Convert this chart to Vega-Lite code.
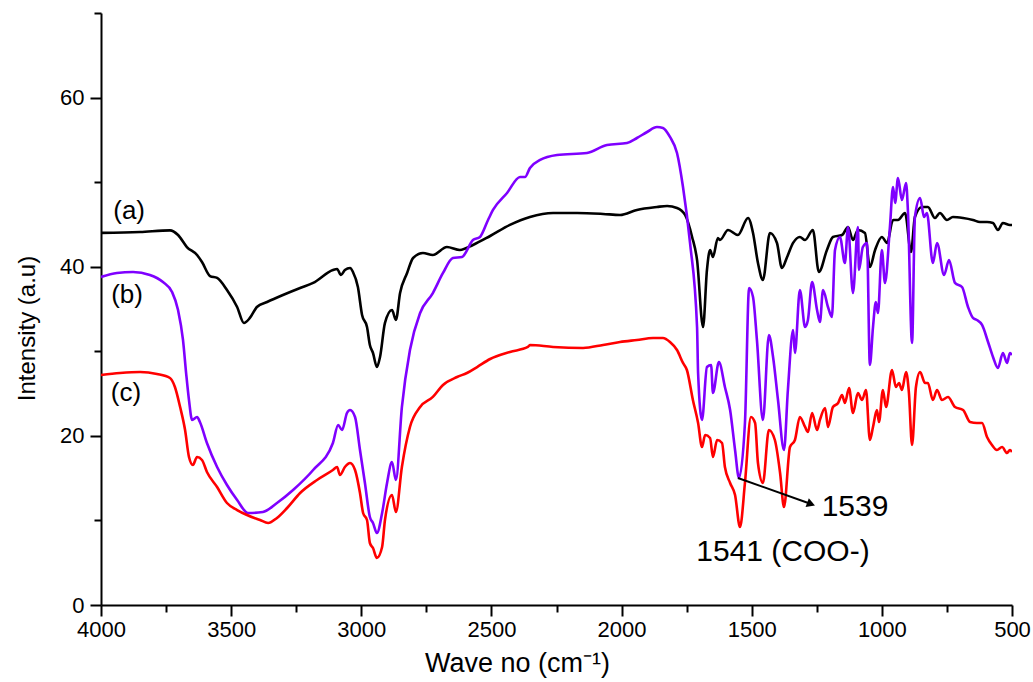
{
  "$schema": "https://vega.github.io/schema/vega-lite/v6.json",
  "width": 911,
  "height": 592,
  "autosize": "none",
  "padding": {"left": 101, "top": 13, "right": 21, "bottom": 77},
  "background": "white",
  "config": {
    "view": {"stroke": null},
    "font": "Liberation Sans",
    "axis": {
      "grid": false,
      "domainColor": "black",
      "domainWidth": 2,
      "tickColor": "black",
      "tickWidth": 2,
      "labelColor": "black",
      "labelFont": "Liberation Sans",
      "labelFontSize": 22,
      "titleColor": "black",
      "titleFontWeight": "normal"
    }
  },
  "layer": [
    {
      "data": {"values": [
        {"s":"a","x":4000,"y":44.0},{"s":"a","x":3850,"y":44.1},{"s":"a","x":3735,"y":44.3},{"s":"a","x":3704,"y":43.75},{"s":"a","x":3670,"y":42.33},{"s":"a","x":3631,"y":41.39},{"s":"a","x":3612,"y":40.56},{"s":"a","x":3581,"y":38.9},{"s":"a","x":3554,"y":38.67},{"s":"a","x":3516,"y":37.25},{"s":"a","x":3477,"y":35.24},{"s":"a","x":3451,"y":33.35},{"s":"a","x":3428,"y":33.94},{"s":"a","x":3401,"y":35.24},{"s":"a","x":3362,"y":35.83},{"s":"a","x":3301,"y":36.66},{"s":"a","x":3235,"y":37.49},{"s":"a","x":3185,"y":38.08},{"s":"a","x":3109,"y":39.61},{"s":"a","x":3093,"y":39.73},{"s":"a","x":3078,"y":39.02},{"s":"a","x":3063,"y":39.61},{"s":"a","x":3043,"y":39.85},{"s":"a","x":3032,"y":39.38},{"s":"a","x":3013,"y":37.6},{"s":"a","x":2997,"y":34.29},{"s":"a","x":2978,"y":32.87},{"s":"a","x":2967,"y":30.75},{"s":"a","x":2955,"y":29.8},{"s":"a","x":2940,"y":28.14},{"s":"a","x":2928,"y":29.33},{"s":"a","x":2909,"y":33.35},{"s":"a","x":2882,"y":34.88},{"s":"a","x":2867,"y":33.7},{"s":"a","x":2851,"y":36.89},{"s":"a","x":2824,"y":39.26},{"s":"a","x":2801,"y":41.03},{"s":"a","x":2763,"y":41.62},{"s":"a","x":2725,"y":41.39},{"s":"a","x":2671,"y":42.33},{"s":"a","x":2621,"y":41.98},{"s":"a","x":2571,"y":42.57},{"s":"a","x":2505,"y":43.63},{"s":"a","x":2429,"y":44.94},{"s":"a","x":2352,"y":45.88},{"s":"a","x":2263,"y":46.35},{"s":"a","x":2171,"y":46.35},{"s":"a","x":2071,"y":46.24},{"s":"a","x":2006,"y":46.12},{"s":"a","x":1941,"y":46.71},{"s":"a","x":1864,"y":47.06},{"s":"a","x":1825,"y":47.18},{"s":"a","x":1787,"y":46.95},{"s":"a","x":1756,"y":46.12},{"s":"a","x":1729,"y":43.52},{"s":"a","x":1710,"y":40.8},{"s":"a","x":1687,"y":32.87},{"s":"a","x":1672,"y":39.61},{"s":"a","x":1660,"y":41.98},{"s":"a","x":1649,"y":41.15},{"s":"a","x":1630,"y":43.4},{"s":"a","x":1622,"y":43.16},{"s":"a","x":1591,"y":44.34},{"s":"a","x":1553,"y":43.75},{"s":"a","x":1514,"y":45.76},{"s":"a","x":1495,"y":43.99},{"s":"a","x":1476,"y":40.44},{"s":"a","x":1457,"y":38.43},{"s":"a","x":1430,"y":43.99},{"s":"a","x":1403,"y":42.81},{"s":"a","x":1384,"y":39.85},{"s":"a","x":1364,"y":41.15},{"s":"a","x":1341,"y":42.81},{"s":"a","x":1315,"y":43.52},{"s":"a","x":1295,"y":43.16},{"s":"a","x":1265,"y":44.34},{"s":"a","x":1242,"y":39.38},{"s":"a","x":1211,"y":41.98},{"s":"a","x":1188,"y":43.52},{"s":"a","x":1153,"y":43.75},{"s":"a","x":1130,"y":44.7},{"s":"a","x":1111,"y":43.16},{"s":"a","x":1092,"y":44.34},{"s":"a","x":1065,"y":43.99},{"s":"a","x":1046,"y":39.97},{"s":"a","x":1026,"y":41.98},{"s":"a","x":1000,"y":43.52},{"s":"a","x":980,"y":42.81},{"s":"a","x":957,"y":45.53},{"s":"a","x":938,"y":45.53},{"s":"a","x":911,"y":46.35},{"s":"a","x":888,"y":41.74},{"s":"a","x":873,"y":45.88},{"s":"a","x":846,"y":47.06},{"s":"a","x":823,"y":47.06},{"s":"a","x":796,"y":45.76},{"s":"a","x":777,"y":46.35},{"s":"a","x":750,"y":45.53},{"s":"a","x":727,"y":45.88},{"s":"a","x":688,"y":45.76},{"s":"a","x":650,"y":45.53},{"s":"a","x":623,"y":45.29},{"s":"a","x":596,"y":45.29},{"s":"a","x":573,"y":45.17},{"s":"a","x":554,"y":44.34},{"s":"a","x":535,"y":45.17},{"s":"a","x":508,"y":44.94},{"s":"a","x":500,"y":44.94},

        {"s":"b","x":4000,"y":38.79},{"s":"b","x":3939,"y":39.26},{"s":"b","x":3877,"y":39.38},{"s":"b","x":3812,"y":39.02},{"s":"b","x":3762,"y":38.19},{"s":"b","x":3727,"y":37.01},{"s":"b","x":3704,"y":34.88},{"s":"b","x":3685,"y":31.34},{"s":"b","x":3673,"y":27.43},{"s":"b","x":3662,"y":24.24},{"s":"b","x":3650,"y":21.88},{"s":"b","x":3631,"y":22.23},{"s":"b","x":3620,"y":21.64},{"s":"b","x":3593,"y":19.16},{"s":"b","x":3554,"y":16.32},{"s":"b","x":3516,"y":14.19},{"s":"b","x":3477,"y":12.42},{"s":"b","x":3435,"y":10.88},{"s":"b","x":3378,"y":11.0},{"s":"b","x":3324,"y":12.06},{"s":"b","x":3262,"y":13.6},{"s":"b","x":3185,"y":15.96},{"s":"b","x":3109,"y":19.16},{"s":"b","x":3089,"y":21.29},{"s":"b","x":3074,"y":20.69},{"s":"b","x":3055,"y":22.7},{"s":"b","x":3043,"y":23.06},{"s":"b","x":3024,"y":22.23},{"s":"b","x":3005,"y":18.33},{"s":"b","x":2986,"y":14.43},{"s":"b","x":2967,"y":10.41},{"s":"b","x":2955,"y":9.7},{"s":"b","x":2940,"y":8.51},{"s":"b","x":2920,"y":10.88},{"s":"b","x":2901,"y":14.43},{"s":"b","x":2882,"y":16.91},{"s":"b","x":2867,"y":14.78},{"s":"b","x":2844,"y":23.41},{"s":"b","x":2813,"y":30.15},{"s":"b","x":2774,"y":34.53},{"s":"b","x":2725,"y":36.89},{"s":"b","x":2686,"y":39.26},{"s":"b","x":2648,"y":41.03},{"s":"b","x":2613,"y":41.15},{"s":"b","x":2571,"y":43.16},{"s":"b","x":2544,"y":43.52},{"s":"b","x":2513,"y":45.53},{"s":"b","x":2494,"y":46.71},{"s":"b","x":2440,"y":48.72},{"s":"b","x":2390,"y":50.61},{"s":"b","x":2371,"y":50.61},{"s":"b","x":2352,"y":51.68},{"s":"b","x":2313,"y":52.62},{"s":"b","x":2248,"y":53.21},{"s":"b","x":2133,"y":53.45},{"s":"b","x":2056,"y":54.39},{"s":"b","x":1979,"y":54.63},{"s":"b","x":1941,"y":55.22},{"s":"b","x":1902,"y":55.93},{"s":"b","x":1864,"y":56.52},{"s":"b","x":1841,"y":56.41},{"s":"b","x":1814,"y":55.34},{"s":"b","x":1787,"y":53.45},{"s":"b","x":1764,"y":49.43},{"s":"b","x":1737,"y":42.81},{"s":"b","x":1710,"y":32.87},{"s":"b","x":1706,"y":27.43},{"s":"b","x":1691,"y":21.88},{"s":"b","x":1672,"y":28.14},{"s":"b","x":1656,"y":28.38},{"s":"b","x":1649,"y":25.07},{"s":"b","x":1626,"y":28.73},{"s":"b","x":1603,"y":25.78},{"s":"b","x":1583,"y":23.06},{"s":"b","x":1564,"y":18.33},{"s":"b","x":1549,"y":15.02},{"s":"b","x":1526,"y":21.52},{"s":"b","x":1510,"y":37.49},{"s":"b","x":1495,"y":36.42},{"s":"b","x":1480,"y":31.34},{"s":"b","x":1457,"y":21.88},{"s":"b","x":1434,"y":31.93},{"s":"b","x":1418,"y":29.33},{"s":"b","x":1399,"y":24.24},{"s":"b","x":1376,"y":18.33},{"s":"b","x":1361,"y":25.42},{"s":"b","x":1341,"y":32.52},{"s":"b","x":1334,"y":29.8},{"s":"b","x":1315,"y":37.25},{"s":"b","x":1295,"y":32.87},{"s":"b","x":1284,"y":33.7},{"s":"b","x":1268,"y":38.19},{"s":"b","x":1249,"y":34.88},{"s":"b","x":1238,"y":33.46},{"s":"b","x":1226,"y":37.25},{"s":"b","x":1207,"y":35.24},{"s":"b","x":1192,"y":34.06},{"s":"b","x":1180,"y":41.98},{"s":"b","x":1161,"y":43.52},{"s":"b","x":1142,"y":40.44},{"s":"b","x":1130,"y":44.7},{"s":"b","x":1111,"y":36.89},{"s":"b","x":1092,"y":44.7},{"s":"b","x":1088,"y":39.61},{"s":"b","x":1073,"y":42.33},{"s":"b","x":1057,"y":42.81},{"s":"b","x":1046,"y":28.38},{"s":"b","x":1034,"y":32.87},{"s":"b","x":1023,"y":35.83},{"s":"b","x":1015,"y":34.53},{"s":"b","x":1000,"y":41.98},{"s":"b","x":988,"y":38.08},{"s":"b","x":969,"y":44.7},{"s":"b","x":957,"y":49.43},{"s":"b","x":949,"y":47.54},{"s":"b","x":938,"y":50.49},{"s":"b","x":923,"y":47.89},{"s":"b","x":907,"y":49.9},{"s":"b","x":900,"y":46.71},{"s":"b","x":884,"y":30.98},{"s":"b","x":873,"y":45.88},{"s":"b","x":853,"y":48.13},{"s":"b","x":838,"y":45.88},{"s":"b","x":827,"y":46.35},{"s":"b","x":804,"y":40.44},{"s":"b","x":788,"y":42.81},{"s":"b","x":761,"y":39.02},{"s":"b","x":742,"y":40.8},{"s":"b","x":719,"y":38.08},{"s":"b","x":692,"y":37.6},{"s":"b","x":669,"y":35.24},{"s":"b","x":650,"y":33.94},{"s":"b","x":635,"y":33.7},{"s":"b","x":615,"y":33.11},{"s":"b","x":592,"y":31.1},{"s":"b","x":573,"y":29.33},{"s":"b","x":554,"y":28.03},{"s":"b","x":535,"y":29.8},{"s":"b","x":519,"y":28.62},{"s":"b","x":508,"y":29.8},{"s":"b","x":500,"y":29.56},

        {"s":"c","x":4000,"y":27.2},{"s":"c","x":3927,"y":27.43},{"s":"c","x":3850,"y":27.55},{"s":"c","x":3785,"y":27.32},{"s":"c","x":3735,"y":26.84},{"s":"c","x":3716,"y":25.78},{"s":"c","x":3696,"y":23.41},{"s":"c","x":3677,"y":20.69},{"s":"c","x":3662,"y":17.5},{"s":"c","x":3647,"y":16.56},{"s":"c","x":3631,"y":17.5},{"s":"c","x":3612,"y":17.15},{"s":"c","x":3593,"y":15.73},{"s":"c","x":3554,"y":13.95},{"s":"c","x":3516,"y":12.06},{"s":"c","x":3477,"y":11.23},{"s":"c","x":3439,"y":10.64},{"s":"c","x":3389,"y":10.05},{"s":"c","x":3358,"y":9.7},{"s":"c","x":3324,"y":10.29},{"s":"c","x":3285,"y":11.47},{"s":"c","x":3235,"y":13.24},{"s":"c","x":3170,"y":14.78},{"s":"c","x":3109,"y":15.96},{"s":"c","x":3093,"y":16.32},{"s":"c","x":3082,"y":15.37},{"s":"c","x":3063,"y":16.32},{"s":"c","x":3043,"y":16.79},{"s":"c","x":3024,"y":15.96},{"s":"c","x":3005,"y":13.24},{"s":"c","x":2993,"y":10.88},{"s":"c","x":2978,"y":10.05},{"s":"c","x":2967,"y":7.33},{"s":"c","x":2955,"y":6.74},{"s":"c","x":2940,"y":5.56},{"s":"c","x":2920,"y":6.86},{"s":"c","x":2909,"y":10.05},{"s":"c","x":2882,"y":13.01},{"s":"c","x":2867,"y":11.0},{"s":"c","x":2844,"y":16.32},{"s":"c","x":2813,"y":21.05},{"s":"c","x":2774,"y":23.41},{"s":"c","x":2725,"y":24.6},{"s":"c","x":2686,"y":26.02},{"s":"c","x":2632,"y":26.96},{"s":"c","x":2594,"y":27.43},{"s":"c","x":2555,"y":28.14},{"s":"c","x":2505,"y":29.09},{"s":"c","x":2429,"y":29.92},{"s":"c","x":2360,"y":30.51},{"s":"c","x":2352,"y":30.75},{"s":"c","x":2263,"y":30.51},{"s":"c","x":2148,"y":30.39},{"s":"c","x":2071,"y":30.75},{"s":"c","x":2006,"y":31.1},{"s":"c","x":1941,"y":31.34},{"s":"c","x":1879,"y":31.57},{"s":"c","x":1841,"y":31.57},{"s":"c","x":1814,"y":31.1},{"s":"c","x":1787,"y":30.15},{"s":"c","x":1764,"y":28.62},{"s":"c","x":1749,"y":27.79},{"s":"c","x":1726,"y":24.24},{"s":"c","x":1706,"y":21.52},{"s":"c","x":1691,"y":18.68},{"s":"c","x":1679,"y":20.1},{"s":"c","x":1660,"y":19.75},{"s":"c","x":1649,"y":17.5},{"s":"c","x":1633,"y":19.51},{"s":"c","x":1614,"y":19.16},{"s":"c","x":1603,"y":16.32},{"s":"c","x":1583,"y":14.43},{"s":"c","x":1564,"y":13.01},{"s":"c","x":1545,"y":9.22},{"s":"c","x":1526,"y":14.43},{"s":"c","x":1503,"y":22.23},{"s":"c","x":1487,"y":21.52},{"s":"c","x":1476,"y":16.79},{"s":"c","x":1457,"y":14.43},{"s":"c","x":1434,"y":20.69},{"s":"c","x":1411,"y":19.51},{"s":"c","x":1391,"y":15.61},{"s":"c","x":1376,"y":11.59},{"s":"c","x":1353,"y":18.68},{"s":"c","x":1334,"y":19.51},{"s":"c","x":1315,"y":22.23},{"s":"c","x":1295,"y":21.05},{"s":"c","x":1284,"y":20.46},{"s":"c","x":1268,"y":22.7},{"s":"c","x":1249,"y":20.69},{"s":"c","x":1238,"y":21.88},{"s":"c","x":1218,"y":23.3},{"s":"c","x":1207,"y":21.05},{"s":"c","x":1188,"y":23.41},{"s":"c","x":1168,"y":23.89},{"s":"c","x":1153,"y":24.83},{"s":"c","x":1142,"y":23.89},{"s":"c","x":1126,"y":25.66},{"s":"c","x":1111,"y":22.7},{"s":"c","x":1092,"y":25.07},{"s":"c","x":1076,"y":24.24},{"s":"c","x":1061,"y":25.42},{"s":"c","x":1046,"y":19.51},{"s":"c","x":1034,"y":21.05},{"s":"c","x":1019,"y":23.06},{"s":"c","x":1011,"y":21.64},{"s":"c","x":996,"y":25.42},{"s":"c","x":984,"y":23.41},{"s":"c","x":961,"y":27.79},{"s":"c","x":946,"y":25.78},{"s":"c","x":934,"y":26.25},{"s":"c","x":923,"y":25.42},{"s":"c","x":907,"y":27.55},{"s":"c","x":896,"y":25.07},{"s":"c","x":884,"y":18.92},{"s":"c","x":869,"y":25.78},{"s":"c","x":853,"y":27.55},{"s":"c","x":834,"y":26.25},{"s":"c","x":823,"y":26.25},{"s":"c","x":804,"y":24.24},{"s":"c","x":788,"y":25.42},{"s":"c","x":769,"y":24.24},{"s":"c","x":746,"y":24.6},{"s":"c","x":719,"y":23.41},{"s":"c","x":688,"y":23.06},{"s":"c","x":661,"y":21.64},{"s":"c","x":635,"y":21.52},{"s":"c","x":615,"y":21.52},{"s":"c","x":596,"y":19.87},{"s":"c","x":577,"y":18.92},{"s":"c","x":558,"y":18.33},{"s":"c","x":538,"y":18.68},{"s":"c","x":519,"y":17.97},{"s":"c","x":508,"y":18.33},{"s":"c","x":500,"y":18.09}
      ]},
      "mark": {"type": "line", "strokeWidth": 2.6, "interpolate": "monotone", "clip": true},
      "encoding": {
        "x": {
          "field": "x", "type": "quantitative",
          "scale": {"domain": [500, 4000], "reverse": true, "nice": false, "zero": false},
          "axis": {
            "title": "Wave no (cm⁻¹)",
            "titleFont": "Liberation Sans",
            "titleFontSize": 27,
            "titleX": 416,
            "titleY": 58,
            "titleBaseline": "middle",
            "values": [500,750,1000,1250,1500,1750,2000,2250,2500,2750,3000,3250,3500,3750,4000],
            "format": "d",
            "labelExpr": "datum.value % 500 == 0 ? datum.label : ''",
            "tickSize": {"condition": {"test": "datum.value % 500 == 0", "value": 11}, "value": 7},
            "labelPadding": 3,
            "labelFlush": false,
            "labelOverlap": false
          }
        },
        "y": {
          "field": "y", "type": "quantitative",
          "scale": {"domain": [0, 70], "nice": false},
          "axis": {
            "title": "Intensity (a.u)",
            "titleFont": "Liberation Sans",
            "titleFontSize": 24,
            "titleX": -74,
            "titleY": 315,
            "titleBaseline": "middle",
            "values": [0,10,20,30,40,50,60,70],
            "labelExpr": "datum.value % 20 == 0 ? datum.label : ''",
            "tickSize": {"condition": {"test": "datum.value % 20 == 0", "value": 11}, "value": 7},
            "labelPadding": 6,
            "labelOverlap": false
          }
        },
        "color": {
          "field": "s", "type": "nominal", "legend": null,
          "scale": {"domain": ["a","b","c"], "range": ["#000000","#7F00FF","#FF0000"]}
        }
      }
    },
    {
      "data": {"values": [
        {"x": 3892, "y": 46.6, "t": "(a)"},
        {"x": 3900, "y": 36.7, "t": "(b)"},
        {"x": 3904, "y": 25.1, "t": "(c)"}
      ]},
      "mark": {"type": "text", "fontSize": 26, "font": "Liberation Sans", "color": "black", "align": "center", "baseline": "middle"},
      "encoding": {
        "x": {"field": "x", "type": "quantitative"},
        "y": {"field": "y", "type": "quantitative"},
        "text": {"field": "t"}
      }
    },
    {
      "data": {"values": [
        {"x": 1103, "y": 11.59, "t": "1539"},
        {"x": 1380, "y": 6.27, "t": "1541 (COO-)"}
      ]},
      "mark": {"type": "text", "fontSize": 30, "font": "Liberation Sans", "color": "black", "align": "center", "baseline": "middle"},
      "encoding": {
        "x": {"field": "x", "type": "quantitative"},
        "y": {"field": "y", "type": "quantitative"},
        "text": {"field": "t"}
      }
    },
    {
      "data": {"values": [{"x": 1553, "y": 15.02, "x2": 1272, "y2": 11.94}]},
      "mark": {"type": "rule", "strokeWidth": 2, "color": "black"},
      "encoding": {
        "x": {"field": "x", "type": "quantitative"},
        "y": {"field": "y", "type": "quantitative"},
        "x2": {"field": "x2"},
        "y2": {"field": "y2"}
      }
    },
    {
      "data": {"values": [{"x": 1272, "y": 11.94}]},
      "mark": {"type": "point", "shape": "triangle-right", "filled": true, "color": "black", "size": 90, "angle": 20, "opacity": 1},
      "encoding": {
        "x": {"field": "x", "type": "quantitative"},
        "y": {"field": "y", "type": "quantitative"}
      }
    }
  ]
}
